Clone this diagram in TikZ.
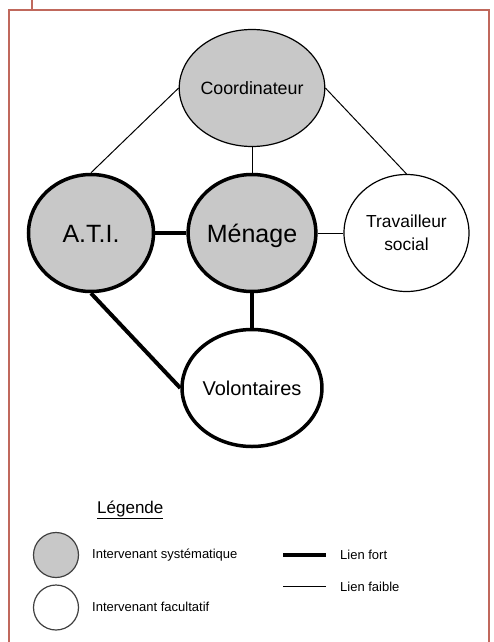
\documentclass[tikz,border=0pt]{standalone}
\usepackage{fontspec}
\setmainfont{Liberation Sans}
\usetikzlibrary{shapes.geometric}
\definecolor{framered}{RGB}{192,104,92}
\definecolor{nodegray}{RGB}{200,200,200}
\tikzset{
  actor/.style={ellipse, draw=black, minimum width=125pt, minimum height=117pt, inner sep=0pt, align=center},
  sysnode/.style={actor, fill=nodegray},
  facnode/.style={actor, fill=white},
  strongb/.style={line width=3.5pt},
  weakb/.style={line width=1.2pt},
  fortlink/.style={line width=4pt},
  faiblelink/.style={line width=1pt},
  capcenter/.style={text height=#1, text depth=0pt},
  legtext/.style={anchor=west, inner sep=0pt, font=\fontsize{13}{15}\selectfont},
  legcircle/.style={circle, draw=black!75, line width=1.2pt, minimum size=45pt, inner sep=0pt}
}
\begin{document}
\begin{tikzpicture}[x=1pt, y=-1pt]
\useasboundingbox (0,0) rectangle (493,642);
% frame
\draw[framered, line width=1.5pt] (9,660) -- (9,10) -- (489,10) -- (489,660);
\draw[framered, line width=1.2pt] (32,0) -- (32,10);
% nodes
\node[sysnode, weakb, capcenter=12.8pt, font=\fontsize{17.8}{20}\selectfont] (coord) at (252,88) {Coordinateur};
\node[sysnode, strongb, capcenter=18pt, font=\fontsize{25}{28}\selectfont] (ati) at (91,233) {A.T.I.};
\node[sysnode, strongb, capcenter=18pt, font=\fontsize{25}{28}\selectfont] (menage) at (252,233) {Ménage};
\node[facnode, weakb, font=\fontsize{17.4}{23}\selectfont] (trav) at (406.5,233) {Travailleur\\social};
\node[facnode, strongb, capcenter=14.4pt, font=\fontsize{20}{23}\selectfont] (vol) at (252,388) {Volontaires};
% links
\draw[faiblelink] (coord.west) -- (ati.north);
\draw[faiblelink] (coord.east) -- (trav.north);
\draw[faiblelink] (coord.south) -- (menage.north);
\draw[fortlink] (ati.east) -- (menage.west);
\draw[faiblelink] (menage.east) -- (trav.west);
\draw[fortlink] (menage.south) -- (vol.north);
\draw[fortlink] (ati.south) -- (vol.west);
% legend
\node[anchor=west, inner sep=0pt, font=\fontsize{17}{20}\selectfont] (leg) at (97,510) {\underline{Légende}};
\node[legcircle, fill=nodegray] (lsys) at (56,555) {};
\node[legcircle, fill=white] (lfac) at (56,607.5) {};
\node[legtext] (tsys) at (92,555) {Intervenant systématique};
\node[legtext] (tfac) at (92,607) {Intervenant facultatif};
\coordinate (fa) at (283,555);
\coordinate (fb) at (326,555);
\coordinate (wa) at (283,586);
\coordinate (wb) at (326,586);
\draw[fortlink] (fa) -- (fb);
\draw[faiblelink] (wa) -- (wb);
\node[legtext] (tfort) at (340,555) {Lien fort};
\node[legtext] (tfaible) at (340,587) {Lien faible};
\end{tikzpicture}
\end{document}
